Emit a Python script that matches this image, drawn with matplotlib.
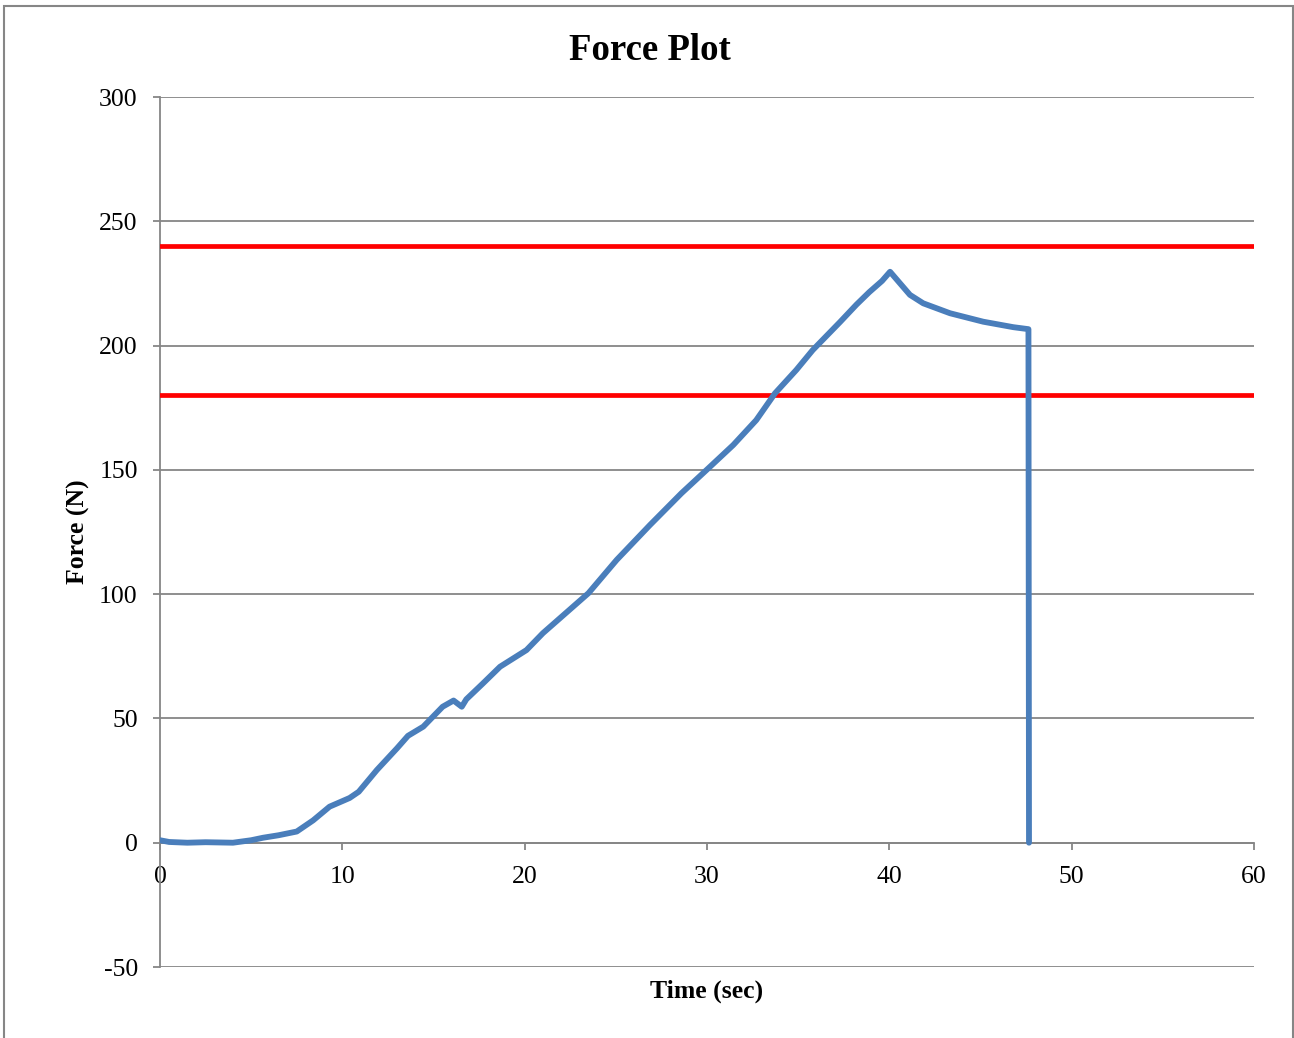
import matplotlib.pyplot as plt
from matplotlib.patches import Rectangle

# force readings
time_sec = [0.0, 0.5, 1.5, 2.5, 4.0, 5.0, 5.65, 6.5, 7.5, 8.4, 9.3, 10.4, 10.9,
            11.9, 13.0, 13.6, 14.44, 15.5, 16.1, 16.55, 16.8, 17.7, 18.65,
            20.1, 21.0, 23.5, 25.05, 26.87, 28.6, 30.07, 31.44, 32.7, 33.73,
            34.9, 35.8, 37.3, 38.2, 38.9, 39.6, 40.04, 40.59, 41.13, 41.86,
            43.33, 45.15, 46.8, 47.63, 47.66]
force_n = [1.0, 0.3, 0.0, 0.2, 0.0, 1.0, 2.0, 3.0, 4.5, 9.0, 14.5, 18.0, 20.5,
           29.3, 38.0, 43.0, 46.7, 54.7, 57.2, 54.7, 57.7, 64.0, 70.8,
           77.5, 84.3, 100.4, 113.8, 127.8, 140.6, 150.6, 160.0, 170.0, 180.8,
           190.2, 198.2, 209.5, 216.5, 221.5, 226.0, 229.7, 225.0, 220.4, 217.0,
           213.0, 209.6, 207.4, 206.6, 0.0]

upper_limit = 240
lower_limit = 180

plt.rcParams['font.family'] = ['Liberation Serif', 'DejaVu Serif']
plt.rcParams['axes.unicode_minus'] = False

fig = plt.figure(figsize=(12.94, 10.38), dpi=100)
ax = fig.add_axes([160/1294, 1-967/1038, (1254-160)/1294, 870/1038])

grid_c = '#868686'
ax.set_xlim(0, 60)
ax.set_ylim(-50, 300)
ax.set_xticks(range(0, 61, 10))
ax.set_yticks(range(-50, 301, 50))
ax.grid(axis='y', color=grid_c, linewidth=1.3)
ax.set_axisbelow(True)

ax.axhline(upper_limit, color='#ff0000', linewidth=3.4, zorder=3)
ax.axhline(lower_limit, color='#ff0000', linewidth=3.4, zorder=3)
ax.plot(time_sec, force_n, color='#4a7ebb', linewidth=4.2, zorder=4,
        solid_joinstyle='round', solid_capstyle='round')

for s in ['top', 'right']:
    ax.spines[s].set_visible(False)
ax.spines['bottom'].set_position(('data', 0))
ax.spines['bottom'].set_color(grid_c)
ax.spines['left'].set_color(grid_c)
ax.spines['bottom'].set_linewidth(1.3)
ax.spines['left'].set_linewidth(1.3)
ax.tick_params(axis='y', direction='out', length=5, width=1.3, color=grid_c,
               labelsize=18.5, pad=11)
ax.tick_params(axis='x', direction='out', length=5, width=1.3, color=grid_c,
               labelsize=18.5, pad=12)

ax.set_xlabel('Time (sec)', fontsize=18.5, fontweight='bold')
ax.set_ylabel('Force (N)', fontsize=18.5, fontweight='bold')
ax.xaxis.set_label_coords(0.5, -0.015)
ax.yaxis.set_label_coords(-0.064, 0.5)

fig.text(650/1294, 1-50/1038, 'Force Plot', fontsize=26.5, fontweight='bold',
         ha='center', va='center')

# chart area border
fig.patches.append(Rectangle((4/1294, -0.1), 1289/1294, 1.1-6/1038,
                             transform=fig.transFigure, fill=False,
                             edgecolor='#868686', linewidth=1.5))

fig.savefig('out.png', dpi=100)
